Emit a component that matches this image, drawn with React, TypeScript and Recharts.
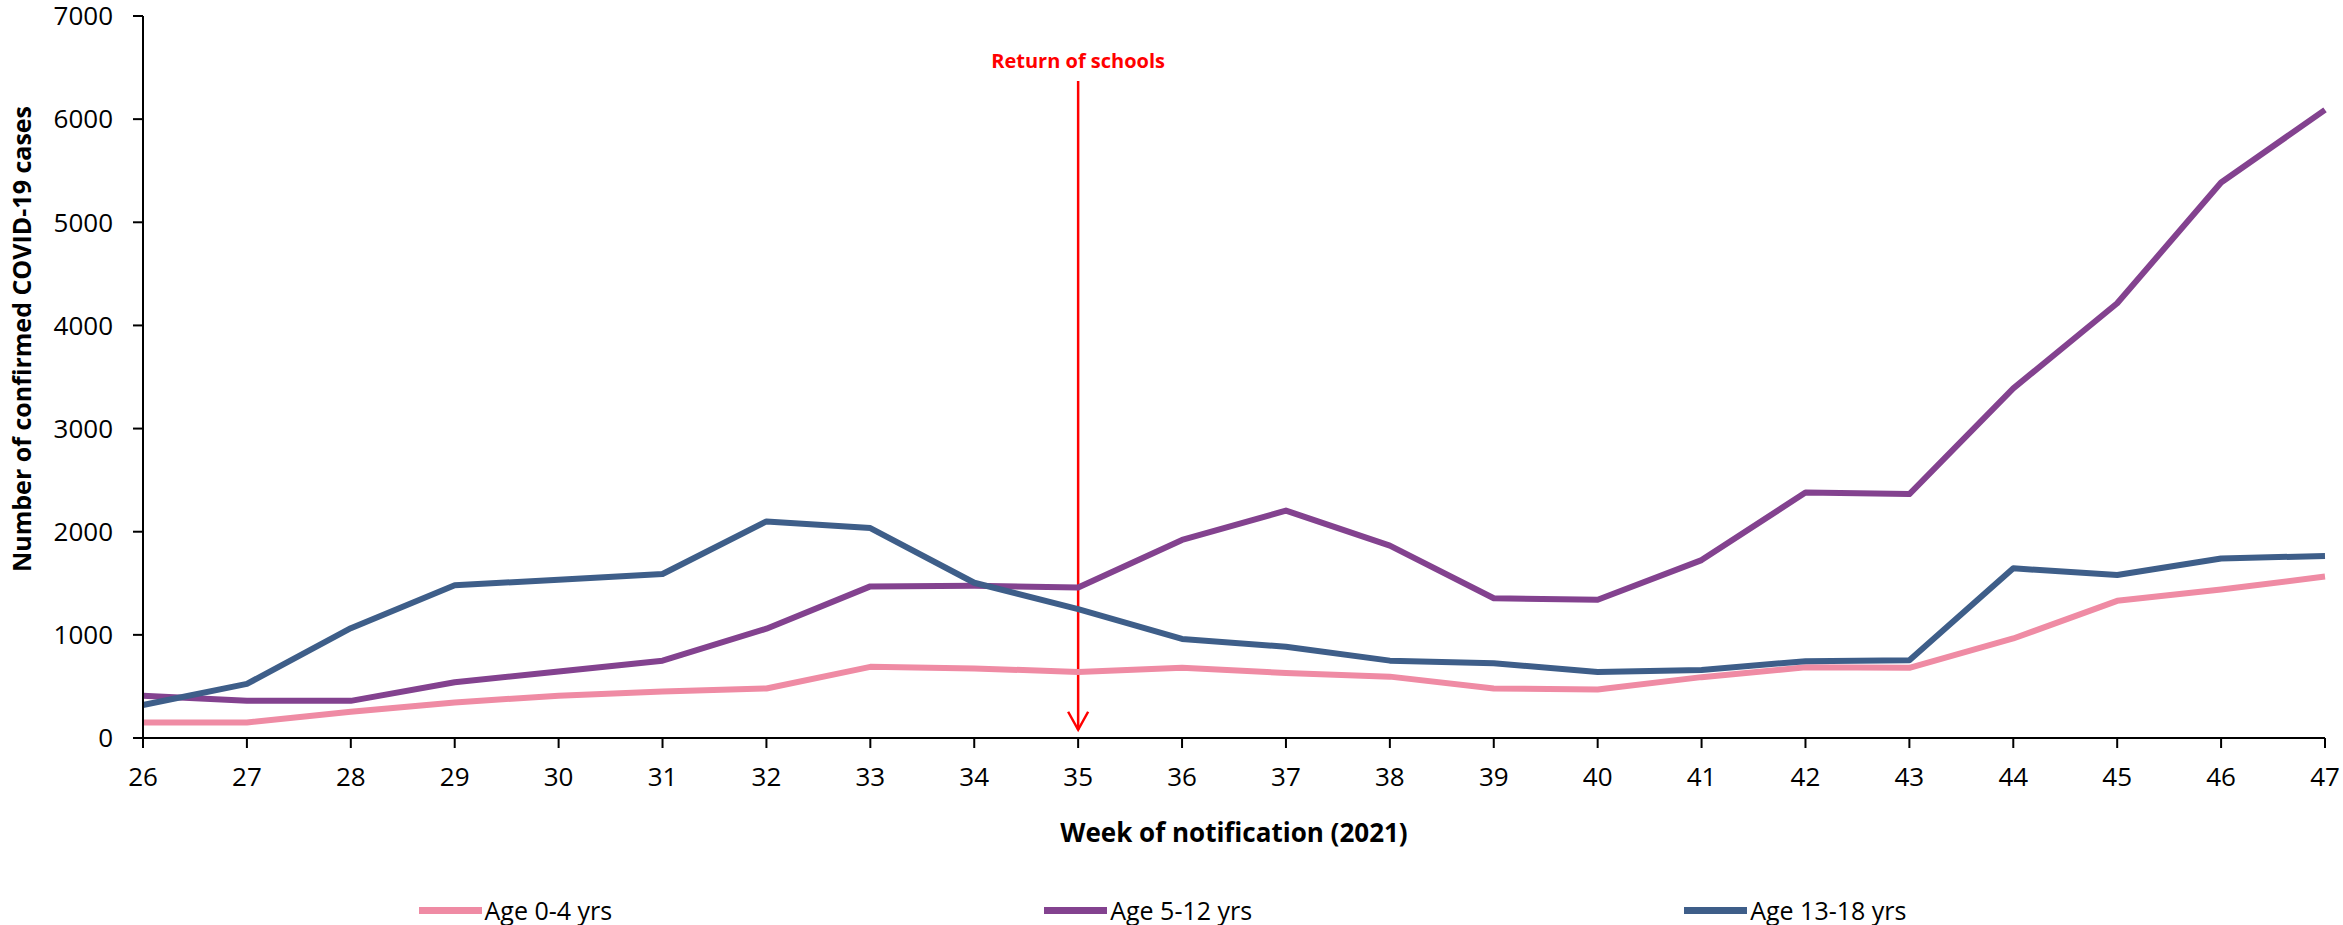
import React from 'react';
import { LineChart, Line, XAxis, YAxis, Legend, ReferenceLine } from 'recharts';

const weeks = [26, 27, 28, 29, 30, 31, 32, 33, 34, 35, 36, 37, 38, 39, 40, 41, 42, 43, 44, 45, 46, 47];
const age0to4 = [150, 150, 255, 345, 410, 450, 480, 690, 675, 640, 680, 630, 595, 480, 470, 590, 685, 680, 965, 1330, 1440, 1565];
const age5to12 = [410, 360, 360, 540, 645, 750, 1060, 1470, 1475, 1460, 1920, 2205, 1865, 1355, 1340, 1725, 2380, 2365, 3390, 4215, 5385, 6090];
const age13to18 = [320, 525, 1065, 1480, 1535, 1590, 2100, 2035, 1505, 1250, 960, 885, 750, 725, 640, 660, 745, 755, 1645, 1580, 1740, 1765];
const yTicks = [0, 1000, 2000, 3000, 4000, 5000, 6000, 7000];
const schoolsWeek = 35;
const arrowFrom = 6370;
const arrowTo = 80;

const data = weeks.map((w, i) => ({ week: w, a: age0to4[i], b: age5to12[i], c: age13to18[i] }));

const FONT = "'Open Sans', sans-serif";

function ArrowShape(props: any) {
  const { x1, y1, x2, y2 } = props;
  return (
    <g>
      <line x1={x1} y1={y1} x2={x2} y2={y2} stroke="#ff0000" strokeWidth={2.5} />
      <path d={`M${x2 - 10},${y2 - 18} L${x2},${y2} L${x2 + 10},${y2 - 18}`} fill="none" stroke="#ff0000" strokeWidth={2.5} />
      <text x={x1} y={y1 - 13} textAnchor="middle" fill="#ff0000" fontFamily={FONT} fontWeight={700} fontSize={20}>
        Return of schools
      </text>
    </g>
  );
}

function YLabel(props: any) {
  const vb = props.viewBox;
  const cx = vb.x + 21;
  const cy = vb.y + vb.height / 2 - 38;
  return (
    <text x={cx} y={cy} transform={`rotate(-90, ${cx}, ${cy})`} textAnchor="middle" dominantBaseline="central"
      fontFamily={FONT} fontWeight={700} fontSize={25} fill="#000">
      Number of confirmed COVID-19 cases
    </text>
  );
}

function renderLegend(props: any) {
  const { payload } = props;
  return (
    <div style={{ display: 'flex', justifyContent: 'center', gap: 432, height: 30, alignItems: 'center' }}>
      {payload.map((p: any) => (
        <div key={p.value} style={{ display: 'flex', alignItems: 'center' }}>
          <div style={{ width: 63, height: 7, background: p.color, marginRight: 3 }} />
          <span style={{ fontFamily: FONT, fontSize: 25, color: '#000' }}>{p.value}</span>
        </div>
      ))}
    </div>
  );
}

export default function App() {
  return (
    <div style={{ width: 2343, height: 925, background: '#fff' }}>
      <style>{`body{margin:0}`}</style>
      <LineChart width={2343} height={925} data={data} margin={{ top: 16, right: 18, left: 0, bottom: 0 }}>
        <XAxis
          dataKey="week"
          type="number"
          domain={[26, 47]}
          ticks={weeks}
          interval={0}
          height={157}
          tickSize={10}
          tickMargin={20}
          stroke="#000"
          strokeWidth={2}
          tick={{ fill: '#000', fontFamily: FONT, fontSize: 26 }}
          label={{ value: 'Week of notification (2021)', position: 'insideBottom', offset: 53, fill: '#000', fontFamily: FONT, fontWeight: 700, fontSize: 26 }}
        />
        <YAxis
          domain={[0, 7000]}
          ticks={yTicks}
          interval={0}
          width={143}
          tickSize={10}
          tickMargin={20}
          stroke="#000"
          strokeWidth={2}
          tick={{ fill: '#000', fontFamily: FONT, fontSize: 26 }}
          label={<YLabel />}
        />
        <Legend verticalAlign="bottom" itemSorter="dataKey" content={renderLegend} />
        <ReferenceLine segment={[{ x: schoolsWeek, y: arrowFrom }, { x: schoolsWeek, y: arrowTo }]} shape={ArrowShape} />
        <Line type="linear" dataKey="a" name="Age 0-4 yrs" stroke="#ef8ba4" strokeWidth={6} strokeLinejoin="round" dot={false} isAnimationActive={false} />
        <Line type="linear" dataKey="b" name="Age 5-12 yrs" stroke="#83428f" strokeWidth={6} strokeLinejoin="round" dot={false} isAnimationActive={false} />
        <Line type="linear" dataKey="c" name="Age 13-18 yrs" stroke="#3e5e89" strokeWidth={6} strokeLinejoin="round" dot={false} isAnimationActive={false} />
      </LineChart>
    </div>
  );
}
